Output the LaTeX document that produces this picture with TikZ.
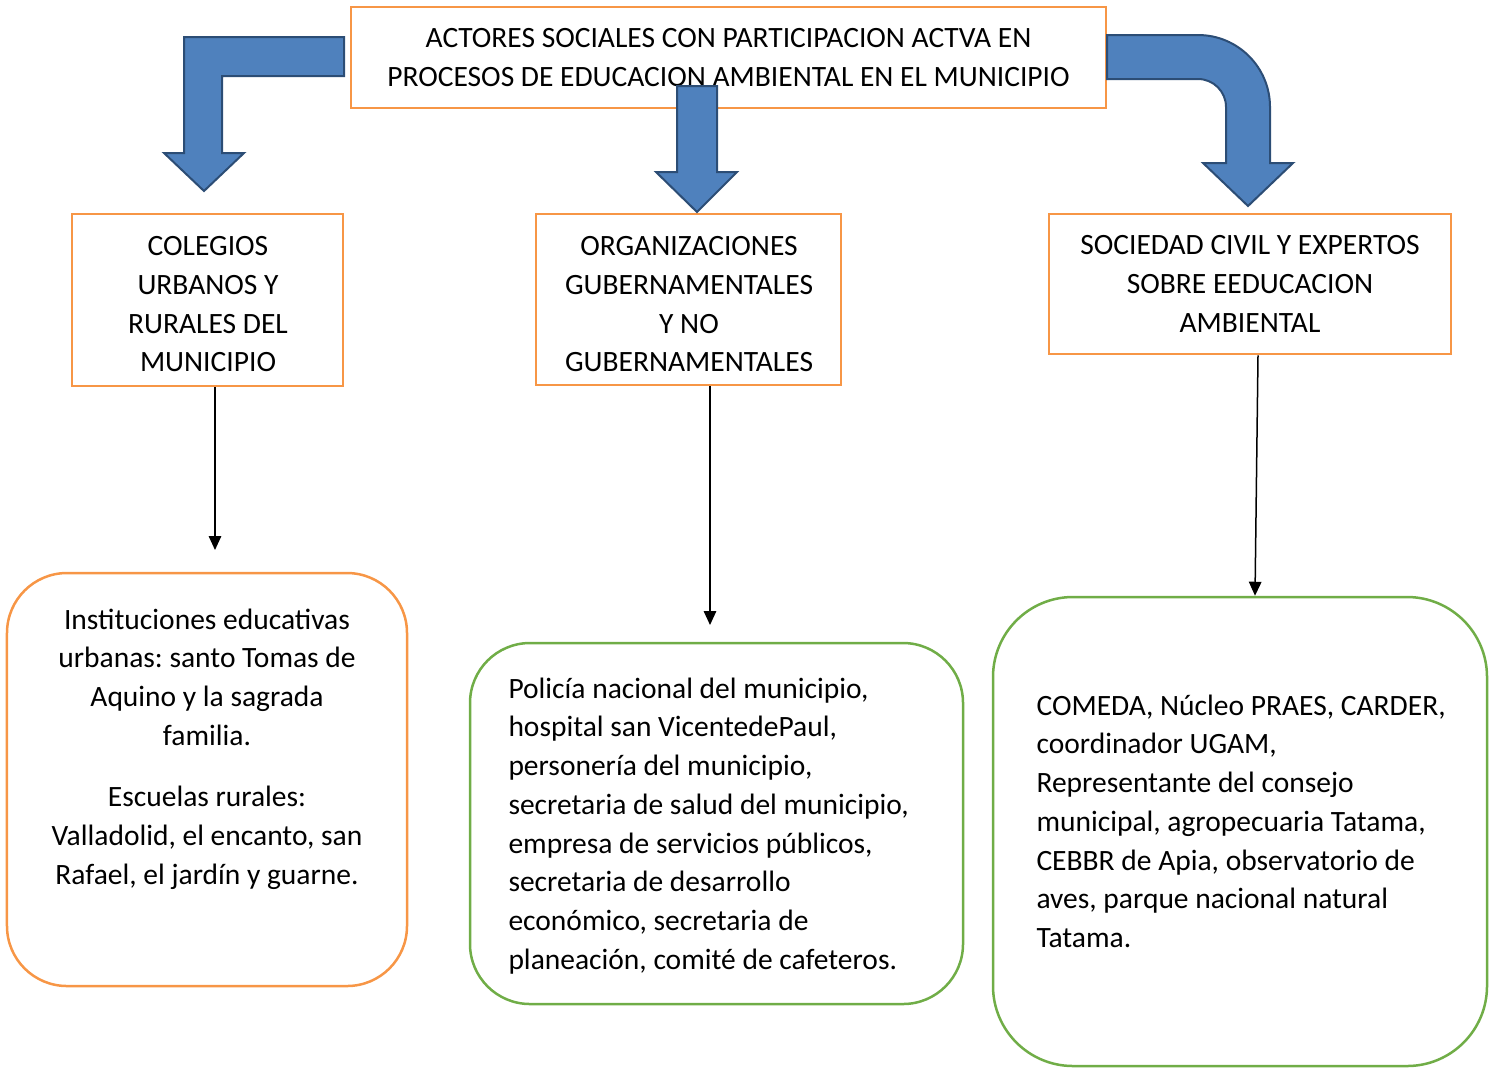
\documentclass[tikz,border=0pt]{standalone}
\usepackage{fontspec}
\setmainfont{Carlito}
\frenchspacing
\usetikzlibrary{arrows.meta}
\definecolor{orng}{HTML}{F79646}
\definecolor{grn}{HTML}{70AD47}
\definecolor{bfill}{HTML}{4F81BD}
\definecolor{bline}{HTML}{2C4D75}
\tikzset{
  sqbox/.style={draw=orng, line width=1pt, rectangle, inner sep=0pt, align=center,
    font=\fontsize{11.8pt}{15.5pt}\selectfont},
  rbox/.style={rectangle, line width=1pt, rounded corners=24pt, inner sep=0pt},
  bodytext/.style={inner sep=0pt, font=\fontsize{11.8pt}{15.5pt}\selectfont},
  blockarrow/.style={fill=bfill, draw=bline, line width=0.8pt, line join=miter},
  thinarrow/.style={draw=black, line width=0.6pt, -{Triangle[length=5.6pt,width=5pt]}}
}
\begin{document}
\begin{tikzpicture}[x=0.4pt,y=-0.4pt]
\useasboundingbox (0,0) rectangle (1497,1068);

% top box
\node[sqbox, minimum width=302pt, minimum height=40.4pt] (top) at (728.5,57.5)
  {ACTORES SOCIALES CON PARTICIPACION ACTVA EN\\PROCESOS DE EDUCACION AMBIENTAL EN EL MUNICIPIO};

% second level boxes (frames), text placed inside
\node[sqbox, minimum width=108.4pt, minimum height=68.8pt] (b1) at (207.5,300) {};
\node[sqbox, minimum width=122pt, minimum height=68.4pt] (b2) at (688.5,299.5) {};
\node[sqbox, minimum width=160.8pt, minimum height=56pt] (b3) at (1250,284)
  {SOCIEDAD CIVIL Y EXPERTOS\\SOBRE EEDUCACION\\AMBIENTAL};
\node[bodytext, align=center, anchor=north] (bt1) at (208,236)
  {COLEGIOS\\URBANOS Y\\RURALES DEL\\MUNICIPIO};
\node[bodytext, align=center, anchor=north] (bt2) at (689,236)
  {ORGANIZACIONES\\GUBERNAMENTALES\\Y NO\\GUBERNAMENTALES};

% rounded boxes
\node[rbox, draw=orng, minimum width=160pt, minimum height=165.2pt] (r1) at (207,779.5) {};
\node[rbox, draw=grn, minimum width=197.2pt, minimum height=144.4pt] (r2) at (716.5,823.5) {};
\node[rbox, draw=grn, rounded corners=32pt, minimum width=197.6pt, minimum height=187.6pt] (r3) at (1240,831.5) {};

\node[bodytext, anchor=north, align=center] (t1) at (207,608)
  {Instituciones educativas\\urbanas: santo Tomas de\\Aquino y la sagrada\\familia.\\[9pt]
   Escuelas rurales:\\Valladolid, el encanto, san\\Rafael, el jardín y guarne.};
\node[bodytext, anchor=north west, align=left] (t2) at (508,677)
  {Policía nacional del municipio,\\hospital san VicentedePaul,\\personería del municipio,\\secretaria de salud del municipio,\\empresa de servicios públicos,\\secretaria de desarrollo\\económico, secretaria de\\planeación, comité de cafeteros.};
\node[bodytext, anchor=north west, align=left] (t3) at (1036,694)
  {COMEDA, Núcleo PRAES, CARDER,\\coordinador UGAM,\\Representante del consejo\\municipal, agropecuaria Tatama,\\CEBBR de Apia, observatorio de\\aves, parque nacional natural\\Tatama.};

% block arrows
\draw[blockarrow] (344,37) -- (184,37) -- (184,153) -- (164,153) -- (204,191) -- (244,153)
  -- (222,153) -- (222,76) -- (344,76) -- cycle;
\draw[blockarrow] (677,86) -- (717,86) -- (717,172) -- (737,172) -- (697,212) -- (656,172)
  -- (677,172) -- cycle;
\draw[blockarrow] (1107,35) -- (1198,35) arc(-90:0:72) -- (1270,163) -- (1293,163) -- (1248,206)
  -- (1203,163) -- (1226,163) -- (1226,107) arc(0:-90:28) -- (1107,79) -- cycle;

% thin arrows
\coordinate (e1) at (215,550);
\coordinate (e2) at (710,625);
\draw[thinarrow] (b1.south -| e1) -- (e1);
\draw[thinarrow] (b2.south -| e2) -- (e2);
\draw[thinarrow] ([xshift=3.2pt]b3.south) -- ([xshift=6pt]r3.north);
\end{tikzpicture}
\end{document}
